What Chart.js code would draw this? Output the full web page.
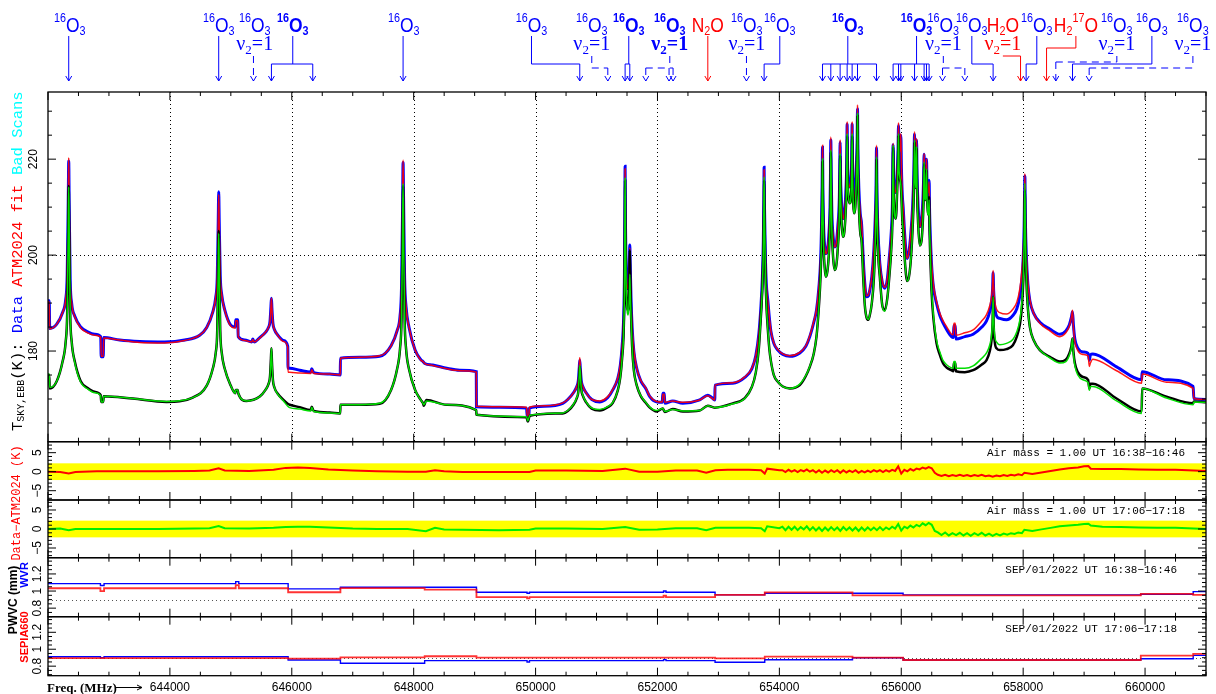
<!DOCTYPE html>
<html>
<head>
<meta charset="utf-8">
<script src="https://cdn.jsdelivr.net/npm/chart.js@4.4.1/dist/chart.umd.min.js"></script>
<style>
  html, body { margin: 0; padding: 0; background: #fff; }
  #wrap { width: 1216px; height: 694px; }
</style>
</head>
<body>
<div id="wrap"><canvas id="myChart" width="1216" height="694"></canvas></div>
<script>
// Sky brightness, scan 16:38-16:46: [MHz, data K, ATM2024 fit K]
var skyScan1 = [
[642000,190.5,190.3],[642020,190.5,190.3],[642028,184.7,184.6],[642143,185.6,185.6],[642241,188.1,188.1],[642290,190.7,190.7],[642315,195.9,196.0],[642332,211.3,211.8],[642340,219.6,220.3],[642348,210.5,211.0],[642364,195.0,195.2],[642389,189.9,189.9],[642438,187.3,187.2],[642537,185.0,184.8],[642651,184.0,183.8],[642766,183.5,183.3],[642865,183.0,182.9],[642873,178.8,178.9],[642906,178.8,178.9],[642914,182.8,182.7],[643177,182.3,182.3],[643505,182.0,181.8],[643915,181.9,181.7],[644243,182.3,182.2],[644489,183.3,183.3],[644604,184.9,184.9],[644703,188.1,188.1],[644752,191.2,191.2],[644777,195.3,195.3],[644793,206.8,206.5],[644801,213.2,212.6],[644809,207.3,207.0],[644826,195.8,195.8],[644851,191.7,191.7],[644900,188.6,188.5],[644998,185.4,185.2],[645072,185.0,184.8],[645080,186.5,186.3],[645113,186.5,186.3],[645121,183.0,183.0],[645228,182.3,182.2],[645343,181.9,181.9],[645359,182.5,182.4],[645384,181.9,181.9],[645474,182.8,182.7],[645568,183.9,183.9],[645617,184.9,184.9],[645642,186.1,186.1],[645658,189.3,189.3],[645666,191.0,191.0],[645674,188.9,188.9],[645691,185.7,185.7],[645715,184.5,184.5],[645764,183.4,183.4],[645863,182.2,182.0],[645934,181.0,180.8],[645938,176.4,175.6],[645966,176.4,175.6],[646130,176.0,175.4],[646311,175.6,175.3],[646327,176.3,176.1],[646360,175.5,175.3],[646623,175.2,175.2],[646795,175.0,175.0],[646798,178.5,178.5],[647115,178.7,178.7],[647443,178.9,179.0],[647629,181.1,181.1],[647727,184.2,184.2],[647776,187.3,187.3],[647801,193.6,193.7],[647818,210.1,210.5],[647826,219.3,219.8],[647834,212.0,212.4],[647851,195.3,195.4],[647875,189.2,189.2],[647924,184.9,184.9],[648023,180.2,180.2],[648116,178.2,178.1],[648154,177.8,177.8],[648182,177.4,177.4],[648313,177.1,177.0],[648543,176.4,176.3],[648756,176.0,175.9],[649027,175.7,175.6],[649030,168.4,168.5],[649413,168.3,168.4],[649851,168.1,168.3],[649864,166.3,166.5],[649889,166.3,166.5],[649897,168.1,168.3],[650151,168.5,168.6],[650446,169.1,169.2],[650528,169.9,169.9],[650627,171.4,171.4],[650676,172.6,172.6],[650701,173.8,173.9],[650717,176.6,177.0],[650725,178.1,178.6],[650733,176.6,177.0],[650750,173.8,173.9],[650775,172.6,172.6],[650824,171.4,171.4],[650922,169.9,169.9],[651054,169.4,169.6],[651185,170.3,170.5],[651267,171.9,172.0],[651349,174.3,174.4],[651390,177.0,177.1],[651420,181.0,181.1],[651445,187.0,187.0],[651458,196.0,196.0],[651464,208.0,207.5],[651469,218.5,218.0],[651474,208.0,207.5],[651486,198.0,198.0],[651502,193.5,193.5],[651518,193.0,193.0],[651535,196.0,196.0],[651541,200.0,199.5],[651546,202.1,201.5],[651553,198.0,197.5],[651566,191.0,191.0],[651584,185.0,185.2],[651612,180.0,180.3],[651661,176.3,176.4],[651726,173.8,173.9],[651808,172.2,172.3],[651874,170.5,170.6],[651984,169.4,169.5],[652079,169.3,169.4],[652087,171.2,171.0],[652112,171.2,171.0],[652120,169.1,169.3],[652251,169.6,169.6],[652415,169.1,169.3],[652694,169.8,169.8],[652826,170.8,170.7],[652891,170.3,170.2],[652940,169.8,169.8],[652945,172.9,172.9],[653236,173.3,173.4],[653433,174.5,174.6],[653548,176.3,176.4],[653613,179.0,179.0],[653663,183.5,183.5],[653696,189.0,189.0],[653720,195.0,195.0],[653737,203.0,203.0],[653745,211.0,210.5],[653750,218.3,217.8],[653756,210.0,209.5],[653770,200.0,200.0],[653786,194.0,194.0],[653811,190.5,190.2],[653835,187.0,187.0],[653860,184.2,184.3],[653909,181.6,181.7],[653975,180.2,180.3],[654057,179.3,179.4],[654172,178.9,179.0],
[654335,179.6,179.7],[654434,181.0,181.1],[654499,183.0,183.2],[654565,186.0,186.2],[654609,188.5,188.7],[654647,193.0,193.2],[654677,199.0,199.2],[654693,207.0,207.2],[654701,214.0,214.3],[654708,222.5,222.9],[654714,214.0,214.3],[654726,206.0,206.0],[654746,201.5,201.5],[654762,200.3,200.3],[654787,201.0,201.0],[654811,204.0,204.0],[654831,210.0,210.2],[654838,216.0,216.3],[654844,224.0,224.6],[654851,216.0,216.3],[654861,209.0,209.0],[654885,203.5,203.5],[654910,201.7,201.7],[654934,202.5,202.5],[654959,206.0,206.0],[654984,212.0,212.2],[654990,217.0,217.3],[654997,223.5,224.0],[655003,217.0,217.3],[655016,212.0,212.0],[655033,208.5,208.5],[655046,207.6,207.6],[655066,208.5,208.5],[655090,213.0,213.0],[655105,219.0,219.3],[655112,227.3,227.8],[655118,220.0,220.3],[655135,215.0,215.0],[655156,214.2,214.2],[655176,216.0,216.0],[655187,220.0,220.3],[655194,227.3,227.8],[655200,220.0,220.3],[655213,213.5,213.5],[655226,211.5,211.5],[655246,213.0,213.0],[655267,220.0,220.3],[655276,224.0,224.5],[655282,230.5,231.3],[655289,222.0,222.3],[655304,214.0,214.0],[655328,208.5,208.5],[655348,206.6,206.6],[655377,199.0,199.0],[655402,194.0,194.1],[655430,191.3,191.5],[655460,191.5,191.7],[655484,192.7,192.9],[655517,195.5,195.6],[655550,201.0,201.0],[655574,208.0,208.2],[655586,214.0,214.3],[655594,222.3,222.9],[655602,213.0,213.3],[655615,206.0,206.0],[655648,198.3,198.3],[655689,194.3,194.5],[655730,193.1,193.3],[655771,195.0,195.0],[655804,199.5,199.5],[655837,205.0,205.0],[655857,212.0,212.2],[655866,223.0,223.3],[655875,216.0,216.2],[655891,213.0,213.0],[655911,213.5,213.5],[655932,217.0,217.2],[655947,222.0,222.3],[655955,227.0,227.6],[655963,221.0,221.3],[655976,222.0,222.0],[655993,225.0,225.3],[656003,218.0,218.2],[656017,212.5,212.5],[656031,210.0,210.0],[656058,204.0,204.0],[656096,199.3,199.3],[656124,200.5,200.5],[656157,204.5,204.5],[656186,210.0,210.2],[656206,217.0,217.3],[656218,225.2,225.7],[656226,219.0,219.2],[656236,216.0,216.0],[656244,219.0,219.2],[656251,224.0,224.3],[656259,217.0,217.2],[656277,210.0,210.0],[656305,205.9,205.9],[656333,207.5,207.5],[656357,212.0,212.0],[656367,216.0,216.2],[656375,221.0,221.2],[656384,215.0,215.2],[656397,214.0,214.0],[656406,216.0,216.1],[656414,220.0,220.1],[656423,215.0,215.0],[656436,213.0,213.0],[656449,213.5,213.4],[656457,215.6,215.3],[656465,209.0,209.2],[656480,203.0,203.3],[656496,198.3,198.6],[656526,193.5,194.0],[656579,189.9,190.3],[656633,187.4,187.9],[656687,185.8,186.3],[656748,184.4,185.0],[656825,183.0,183.5],[656854,182.8,183.4],[656863,185.3,185.8],[656887,185.3,185.8],[656895,182.5,183.3],[657043,183.0,183.8],[657179,183.5,184.4],
[657322,185.0,186.3],[657399,186.3,187.6],[657453,188.3,189.5],[657483,190.5,191.5],[657499,193.0,194.0],[657507,196.3,196.8],[657516,192.5,193.5],[657535,189.0,190.3],[657568,187.2,188.6],[657617,186.8,188.0],[657727,186.5,187.7],[657831,187.4,188.7],[657896,188.8,190.2],[657946,191.5,193.0],[657978,195.0,196.5],[658003,200.0,201.0],[658016,206.0,207.0],[658028,216.5,217.0],[658037,207.0,207.5],[658052,200.0,200.5],[658077,194.0,194.5],[658110,190.5,190.7],[658175,187.8,187.8],[658274,186.0,185.8],[658438,184.6,184.2],[658602,183.5,183.0],[658700,184.2,183.8],[658758,185.5,185.2],[658791,187.0,187.0],[658810,188.2,188.5],[658824,185.5,185.0],[658848,182.5,182.0],[658897,180.6,180.1],[658979,179.8,179.3],[659066,179.5,179.0],[659086,178.1,176.8],[659103,179.2,177.5],[659143,179.4,178.3],[659533,176.7,175.9],[659943,174.0,173.3],[659953,175.7,175.2],[660353,174.0,173.5],[660789,172.6,172.2],[660801,170.1,170.1],[661000,169.9,169.9]
];

// Sky brightness, scan 17:06-17:18: [MHz, data K, ATM2024 fit K]
var skyScan2 = [
[642000,175.0,175.2],[642020,175.0,175.2],[642028,172.2,172.4],[642143,173.7,173.7],[642241,177.9,177.9],[642290,181.9,181.9],[642315,188.0,188.0],[642332,205.0,204.8],[642340,214.4,214.2],[642348,205.0,204.8],[642364,188.0,188.0],[642389,181.9,181.9],[642438,177.9,177.7],[642537,173.7,173.5],[642651,172.3,172.1],[642766,171.5,171.3],[642865,170.8,170.7],[642873,169.4,169.4],[642906,169.4,169.4],[642914,170.6,170.6],[643390,170.1,170.1],[643943,169.4,169.5],[644375,170.3,170.3],[644604,172.8,172.8],[644703,176.3,176.3],[644752,179.6,179.6],[644777,184.4,184.4],[644793,197.7,197.3],[644801,205.0,204.5],[644809,197.7,197.3],[644826,184.4,184.4],[644851,179.6,179.6],[644900,176.3,176.3],[644998,172.8,172.8],[645072,171.2,171.2],[645080,171.9,171.9],[645113,171.9,171.9],[645121,171.2,171.2],[645256,169.6,169.6],[645474,170.5,170.5],[645568,171.9,171.9],[645617,173.1,173.1],[645642,174.6,174.6],[645658,178.5,178.5],[645666,180.6,180.6],[645674,177.8,177.8],[645691,173.9,173.9],[645715,172.4,172.4],[645764,171.2,171.1],[645863,169.8,169.6],[645934,169.0,168.5],[645966,168.8,168.2],[646130,168.3,167.9],[646311,167.7,167.5],[646327,168.4,168.3],[646360,167.5,167.4],[646623,167.2,167.1],[646795,167.0,167.0],[646798,168.8,168.8],[647115,168.8,168.8],[647443,169.0,169.1],[647629,171.9,171.9],[647727,176.2,176.2],[647776,180.5,180.5],[647801,186.9,186.9],[647818,204.6,205.0],[647826,214.4,214.9],[647834,204.6,205.0],[647851,186.9,186.9],[647875,180.5,180.5],[647924,176.2,176.2],[648023,171.9,171.9],[648116,169.8,169.8],[648154,169.1,169.1],[648165,168.6,168.8],[648209,169.8,169.6],[648538,168.8,168.8],[649027,167.7,167.7],[649030,166.7,166.7],[649851,166.2,166.3],[649872,165.3,165.4],[649905,166.5,166.6],[650446,167.0,167.1],[650528,167.5,167.6],[650627,168.9,169.0],[650676,170.2,170.3],[650701,171.5,171.6],[650717,174.9,175.1],[650725,176.7,177.0],[650733,175.4,175.6],[650750,172.0,172.1],[650775,170.7,170.8],[650824,169.4,169.5],[650922,168.0,168.1],[651054,167.6,167.8],[651185,168.3,168.4],[651267,169.2,169.3],[651349,171.8,171.8],[651390,174.5,174.5],[651420,178.5,178.5],[651445,184.0,184.0],[651458,193.0,193.0],[651464,205.0,205.5],[651469,215.5,216.0],[651474,205.0,205.5],[651486,194.0,194.0],[651502,189.0,188.5],[651518,188.5,187.5],[651535,192.0,190.0],[651541,197.0,193.0],[651546,201.0,196.0],[651553,196.0,192.5],[651566,188.0,187.0],[651584,181.0,181.0],[651612,176.0,176.0],[651661,172.8,172.8],[651726,170.6,170.7],[651808,169.2,169.3],[651874,168.2,168.3],[651984,167.4,167.6],[652087,168.0,168.0],[652120,167.3,167.4],[652251,167.9,167.8],[652415,167.4,167.5],[652694,167.6,167.6],[652826,168.6,168.6],[652940,168.2,168.2],[653236,169.1,169.0],[653433,170.2,170.1],[653548,172.5,172.5],[653613,175.5,175.5],[653663,180.5,180.5],[653696,187.0,187.0],[653720,193.0,193.0],[653737,201.0,201.0],[653745,209.0,209.5],[653750,215.5,216.3],[653756,208.0,208.5],[653770,197.0,197.0],[653786,190.0,190.0],[653811,184.5,184.5],[653835,180.5,180.5],[653860,178.0,178.0],[653909,175.0,175.0],[653975,173.6,173.6],[654057,172.6,172.6],[654172,172.2,172.2],
[654335,172.9,173.1],[654434,174.8,174.9],[654499,176.7,176.8],[654565,179.5,179.5],[654609,183.0,183.0],[654647,189.0,189.0],[654677,196.0,196.0],[654693,204.0,204.2],[654701,211.0,211.3],[654708,219.5,220.1],[654714,211.0,211.3],[654726,202.0,202.0],[654746,197.0,197.0],[654762,195.5,195.5],[654787,196.5,196.5],[654811,200.0,200.0],[654831,207.0,207.2],[654838,213.0,213.3],[654844,221.5,221.9],[654851,213.0,213.3],[654861,205.5,205.5],[654885,199.0,199.0],[654910,196.9,196.9],[654934,197.8,197.8],[654959,201.5,201.5],[654984,208.5,208.7],[654990,214.0,214.3],[654997,220.7,221.2],[655003,214.0,214.3],[655016,208.0,208.0],[655033,204.8,204.8],[655046,203.8,203.8],[655066,204.8,204.8],[655090,209.5,209.5],[655105,216.0,216.3],[655112,224.8,225.3],[655118,217.0,217.3],[655135,212.0,212.0],[655156,210.8,210.8],[655176,212.5,212.5],[655187,217.0,217.3],[655194,224.8,225.3],[655200,217.0,217.3],[655213,210.5,210.5],[655226,208.7,208.7],[655246,210.0,210.0],[655267,217.0,217.3],[655276,221.0,221.4],[655282,229.0,229.5],[655289,219.0,219.3],[655304,210.5,210.5],[655328,204.5,204.5],[655348,203.1,203.1],[655377,195.0,195.0],[655402,189.5,189.6],[655430,187.0,187.1],[655460,186.5,186.6],[655484,187.5,187.6],[655517,190.0,190.1],[655550,195.0,195.0],[655574,203.0,203.2],[655586,210.0,210.3],[655594,220.0,220.5],[655602,210.0,210.3],[655615,202.0,202.0],[655648,195.5,195.5],[655689,189.5,189.4],[655730,188.5,188.3],[655771,191.0,190.9],[655804,195.5,195.5],[655837,201.5,201.5],[655857,209.0,209.2],[655866,222.5,222.9],[655875,214.0,214.2],[655891,208.5,208.5],[655911,207.6,207.6],[655932,213.0,213.2],[655947,219.0,219.3],[655955,225.0,225.3],[655963,218.0,218.3],[655976,216.0,216.3],[655993,214.6,214.6],[656003,212.0,212.2],[656017,207.5,207.5],[656031,205.2,205.2],[656058,199.0,199.0],[656096,194.6,194.6],[656124,195.3,195.3],[656157,199.0,199.0],[656186,205.5,205.7],[656206,213.0,213.3],[656218,223.5,224.0],[656226,217.0,217.2],[656236,214.0,214.0],[656244,217.0,217.2],[656251,222.3,222.6],[656259,214.0,214.2],[656277,206.5,206.5],[656305,202.0,202.0],[656333,203.0,203.0],[656357,208.0,208.0],[656367,212.0,212.2],[656375,219.0,219.4],[656384,213.0,213.2],[656397,211.5,211.5],[656406,213.0,213.1],[656414,217.8,218.0],[656423,212.0,212.0],[656436,208.5,208.5],[656449,208.5,208.4],[656457,212.1,211.5],[656465,205.0,205.3],[656480,198.0,198.4],[656496,192.7,193.2],[656526,187.0,187.6],[656579,181.6,182.2],[656633,179.2,179.8],[656687,177.4,178.0],[656748,176.5,177.1],[656825,176.0,176.5],[656854,175.8,176.4],[656863,177.5,177.8],[656887,177.5,177.8],[656895,175.8,176.4],[657043,175.6,176.4],[657179,176.0,176.9],
[657322,177.2,178.5],[657399,178.1,179.6],[657453,180.0,181.3],[657483,182.5,183.5],[657499,186.0,187.0],[657507,191.3,191.3],[657516,185.5,186.5],[657535,181.8,183.0],[657568,180.5,181.8],[657617,180.2,181.3],[657727,180.4,181.6],[657831,181.2,182.4],[657896,183.0,184.0],[657946,185.5,186.5],[657978,189.0,190.0],[658003,195.0,196.0],[658016,202.0,203.0],[658028,213.5,215.0],[658037,203.0,204.0],[658052,195.0,195.5],[658077,189.0,189.0],[658110,185.0,185.0],[658175,182.2,182.2],[658274,180.2,180.2],[658438,178.8,178.6],[658602,177.8,177.5],[658700,178.2,177.8],[658758,179.5,179.1],[658791,181.0,180.7],[658810,182.6,182.6],[658824,180.0,179.6],[658848,177.5,177.0],[658897,175.6,175.0],[658979,174.6,174.0],[659066,174.0,173.4],[659086,172.2,171.8],[659103,173.2,172.6],[659143,173.2,172.6],[659533,170.1,169.6],[659943,167.4,167.0],[659953,172.2,172.2],[660353,170.5,170.2],[660789,169.1,168.8],[660801,169.5,169.4],[661000,169.3,169.3]
];

// Data - ATM2024 residuals: [MHz, 16:38 scan K, 17:06 scan K]
var residRows = [
[642000,0.0,0.0],[642200,-0.1,0.1],[642340,-0.5,-0.3],[642450,-0.1,0.0],[642800,0.1,0.0],[643200,0.1,0.0],[643800,0.1,0.0],[644400,0.2,0.1],[644650,0.3,0.2],[644800,0.9,0.8],[644900,0.3,0.2],[645300,0.2,0.1],[645700,0.5,0.3],[645900,1.0,0.5],[646100,1.1,0.6],[646300,1.0,0.6],[646600,0.6,0.4],[647000,0.3,0.1],[647400,0.1,0.0],[647900,0.0,0.0],[648200,0.0,-0.6],[648350,0.4,0.3],[648500,0.1,-0.1],[648800,-0.1,-0.2],[649400,-0.1,-0.3],[649900,-0.1,-0.2],[650000,0.3,0.1],[650500,0.3,0.1],[651100,0.2,0.0],[651470,0.8,0.5],[651700,0.0,-0.2],[652000,0.0,-0.1],[652300,0.3,0.2],[652650,0.3,0.2],[652800,-0.3,-0.3],[652950,0.4,0.3],[653150,0.5,0.3],[653500,0.5,0.3],[653700,0.4,0.2],[653760,-0.5,-0.6],[653800,0.8,0.7],[654000,0.4,0.2],
[654050,0.4,0.6],[654100,-0.1,-0.3],[654150,0.5,0.6],[654200,0.0,-0.2],[654250,0.4,0.6],[654300,-0.1,-0.3],[654350,0.4,0.5],[654400,0.1,-0.1],[654450,0.6,0.7],[654500,0.0,-0.3],[654550,0.4,0.5],[654600,-0.2,-0.4],[654650,0.4,0.4],[654700,-0.3,-0.5],[654750,0.3,0.4],[654800,-0.2,-0.4],[654850,0.4,0.5],[654900,-0.1,-0.3],[654950,0.4,0.4],[655000,-0.3,-0.5],[655050,0.4,0.5],[655100,-0.2,-0.3],[655150,0.3,0.4],[655200,-0.1,-0.4],[655250,0.4,0.4],[655300,-0.3,-0.5],[655350,0.2,0.4],[655400,-0.2,-0.4],[655450,0.3,0.4],[655500,-0.1,-0.3],[655550,0.4,0.4],[655600,0.0,-0.3],[655650,0.4,0.5],[655700,-0.1,-0.3],[655750,0.4,0.4],[655800,0.0,-0.1],[655850,0.5,0.6],[655900,0.2,0.1],[655950,1.4,1.3],[656000,-0.5,-0.4],[656050,0.5,0.6],[656100,0.1,0.2],[656150,0.7,0.9],[656200,0.3,0.4],[656250,0.8,1.1],[656300,0.6,0.7],[656350,1.1,1.5],[656400,0.8,1.0],[656450,1.2,1.6],[656500,0.9,1.1],[656550,-0.3,-0.5],
[656600,-0.8,-0.9],[656660,-1.1,-1.6],[656720,-0.8,-0.9],[656780,-1.2,-1.7],[656840,-0.9,-1.1],[656900,-1.1,-1.6],[656960,-0.8,-1.0],[657020,-1.1,-1.7],[657080,-0.9,-1.1],[657140,-1.2,-1.8],[657200,-0.9,-1.1],[657260,-1.1,-1.6],[657320,-0.8,-1.0],[657380,-1.2,-1.7],[657440,-1.0,-1.2],[657500,-1.3,-1.8],[657560,-1.0,-1.3],[657620,-1.2,-1.7],[657680,-0.9,-1.2],[657740,-1.1,-1.5],[657800,-0.8,-1.1],[657860,-1.0,-1.3],[657920,-0.7,-0.9],[657980,-0.9,-1.1],[658020,-0.3,-0.2],
[658150,-0.6,-0.5],[658300,-0.2,-0.1],[658450,0.2,0.3],[658600,0.6,0.7],[658750,0.9,0.9],[658900,1.1,1.1],[659000,1.4,1.3],[659070,1.5,1.4],[659110,0.8,0.9],[659300,0.7,0.6],[659600,0.7,0.5],[659900,0.6,0.4],[660200,0.5,0.3],[660500,0.5,0.3],[660800,0.3,0.1],[661000,0.2,0.0]
];
var residBand = 2.2;

// precipitable water vapour, WVR and SEPIA660 (mm)
var freqWvr1 = [642000,642860,642920,645080,645130,645940,646798,649030,649860,649900,652100,652140,652945,653760,656030,659930,660790,661000];
var pwvWvr1 = [1.087,1.065,1.087,1.11,1.087,1.025,1.045,0.986,0.975,0.986,1.0,0.986,0.955,0.975,0.955,0.963,0.993,0.993];
var freqSepia1 = [642000,642860,642920,645080,645130,645940,646798,648180,649030,649860,649900,652100,652140,652945,653760,655200,659930,660790,661000];
var pwvSepia1 = [1.033,1.0,1.033,1.07,1.033,0.986,1.035,1.017,0.928,0.915,0.928,0.945,0.928,0.955,0.985,0.95,0.966,0.955,0.955];
var freqWvr2 = [642000,642860,642920,645940,646798,648180,649860,649900,652100,652140,652945,653760,655200,656030,659930,660790,661000];
var pwvWvr2 = [0.912,0.9,0.912,0.873,0.834,0.865,0.85,0.865,0.877,0.865,0.846,0.875,0.9,0.873,0.888,0.928,0.928];
var freqSepia2 = [642000,645940,646798,648180,649030,652945,653760,655200,656030,659930,660790,661000];
var pwvSepia2 = [0.896,0.888,0.905,0.917,0.9,0.893,0.912,0.9,0.873,0.924,0.944,0.944];
var pwvRef = 0.9;

var freqTicks = [644000,646000,648000,650000,652000,654000,656000,658000,660000];

// line identifications along the top: label centre and arrow positions (MHz)
var lineTags = [
  {at: 642356, mol: 'O3', arrows: [642340]},
  {at: 644801, mol: 'O3', arrows: [644801]},
  {at: 645392, mol: 'O3', vib: true, arrows: [645371]},
  {at: 646016, mol: 'O3', bold: true, arrows: [645666, 646344], bus: 64},
  {at: 647837, mol: 'O3', arrows: [647826]},
  {at: 649933, mol: 'O3', arrows: [650725], bus: 64},
  {at: 650922, mol: 'O3', vib: true, arrows: [651185], bus: 68},
  {at: 651529, mol: 'O3', bold: true, arrows: [651469, 651546], bus: 64},
  {at: 652202, mol: 'O3', bold: true, vib: true, arrows: [651808, 652190, 652256], bus: 68},
  {at: 652826, mol: 'N2O', red: true, arrows: [652826]},
  {at: 653466, mol: 'O3', vib: true, arrows: [653460]},
  {at: 654007, mol: 'O3', arrows: [653750], bus: 64},
  {at: 655123, mol: 'O3', bold: true, arrows: [654708, 654844, 654997, 655112, 655194, 655282, 655594], bus: 64},
  {at: 656251, mol: 'O3', bold: true, arrows: [655866, 655955, 655993, 656218, 656375, 656414, 656457], bus: 64},
  {at: 656690, mol: 'O3', vib: true, arrows: [656677, 657043], bus: 68},
  {at: 657158, mol: 'O3', arrows: [657507], bus: 64},
  {at: 657667, mol: 'H2O', red: true, vib: true, solid: true, arrows: [657957], bus: 56},
  {at: 658224, mol: 'O3', arrows: [658049], bus: 64},
  {at: 658865, mol: 'H217O', red: true, arrows: [658384], bus: 48},
  {at: 659537, mol: 'O3', vib: true, arrows: [658536], bus: 62},
  {at: 660112, mol: 'O3', arrows: [658810], bus: 64},
  {at: 660785, mol: 'O3', vib: true, arrows: [659083], bus: 68}
];

function col(rows, k) { return rows.map(function (r) { return {x: r[0], y: r[k]}; }); }
function pts(xs, ys) { return xs.map(function (x, i) { return {x: x, y: ys[i]}; }); }

var BLUE = '#0000ff', RED = '#ff0000', GREEN = '#00dd00';
var SANS = '"Liberation Sans", Arial, sans-serif';
var SERIF = '"Liberation Serif", "Times New Roman", serif';
var MONO = '"Liberation Mono", "Courier New", monospace';

function line(ctx, x1, y1, x2, y2) { ctx.beginPath(); ctx.moveTo(x1, y1); ctx.lineTo(x2, y2); ctx.stroke(); }

function vtext(ctx, str, cx, cy, font, color) {
  ctx.save();
  ctx.translate(cx, cy);
  ctx.rotate(-Math.PI / 2);
  ctx.font = font;
  ctx.fillStyle = color;
  ctx.textAlign = 'center';
  ctx.textBaseline = 'middle';
  ctx.fillText(str, 0, 0);
  ctx.restore();
}

var molParts = {
  O3: [['16', 'sup'], ['O', 'main'], ['3', 'sub']],
  N2O: [['N', 'main'], ['2', 'sub'], ['O', 'main']],
  H2O: [['H', 'main'], ['2', 'sub'], ['O', 'main']],
  H217O: [['H', 'main'], ['2', 'sub'], ['17', 'sup'], ['O', 'main']]
};
var partSpec = {main: [21, 31.7], sup: [13, 22], sub: [13, 35]};

function drawFormula(ctx, parts, cx, bold, color) {
  var w = bold ? 'bold ' : '';
  var total = 0;
  var widths = parts.map(function (p) {
    ctx.font = w + partSpec[p[1]][0] + 'px ' + SANS;
    var m = ctx.measureText(p[0]).width;
    total += m;
    return m;
  });
  ctx.save();
  ctx.translate(cx, 0);
  ctx.scale(0.83, 1);
  ctx.fillStyle = color;
  ctx.textAlign = 'left';
  ctx.textBaseline = 'alphabetic';
  var cur = -total / 2;
  parts.forEach(function (p, i) {
    ctx.font = w + partSpec[p[1]][0] + 'px ' + SANS;
    ctx.fillText(p[0], cur, partSpec[p[1]][1]);
    cur += widths[i];
  });
  ctx.restore();
}

function drawVib(ctx, cx, bold, color) {
  var w = bold ? 'bold ' : '';
  var seq = [['\u03bd', 20, 50], ['2', 13, 54], ['=1', 20, 50]];
  var total = 0;
  var widths = seq.map(function (s) { ctx.font = w + s[1] + 'px ' + SERIF; var m = ctx.measureText(s[0]).width; total += m; return m; });
  ctx.save();
  ctx.fillStyle = color;
  ctx.textAlign = 'left';
  ctx.textBaseline = 'alphabetic';
  var cur = cx - total / 2;
  seq.forEach(function (s, i) { ctx.font = w + s[1] + 'px ' + SERIF; ctx.fillText(s[0], cur, s[2]); cur += widths[i]; });
  ctx.restore();
}

function arrowHead(ctx, x, y) {
  ctx.save();
  ctx.setLineDash([]);
  ctx.beginPath();
  ctx.moveTo(x - 3, y - 5);
  ctx.lineTo(x, y);
  ctx.lineTo(x + 3, y - 5);
  ctx.stroke();
  ctx.restore();
}

var panelIds = ['yT', 'yR1', 'yR2', 'yP1', 'yP2'];
var yTickSpec = {
  yT: {minor: 5, major: 20, labels: [180, 200, 220], lx: 34},
  yR1: {minor: 1, major: 5, labels: [-5, 0, 5], lx: 38},
  yR2: {minor: 1, major: 5, labels: [-5, 0, 5], lx: 38},
  yP1: {minor: 0.05, major: 0.2, labels: [0.8, 1, 1.2], lx: 38},
  yP2: {minor: 0.05, major: 0.2, labels: [0.8, 1, 1.2], lx: 38}
};

var panelFrame = {
  id: 'panelFrame',
  beforeDatasetsDraw: function (chart) {
    var ctx = chart.ctx, sc = chart.scales, x = sc.x, yT = sc.yT;
    ctx.save();
    ['yR1', 'yR2'].forEach(function (id) {
      var s = sc[id];
      var y1 = s.getPixelForValue(residBand), y2 = s.getPixelForValue(-residBand);
      ctx.fillStyle = '#ffff00';
      ctx.fillRect(x.left, y1, x.right - x.left, y2 - y1);
    });
    ctx.strokeStyle = '#000';
    ctx.lineWidth = 1;
    ctx.setLineDash([1, 3]);
    freqTicks.forEach(function (f) {
      var px = Math.round(x.getPixelForValue(f)) + 0.5;
      line(ctx, px, yT.top, px, yT.bottom);
    });
    var py = Math.round(yT.getPixelForValue(200)) + 0.5;
    line(ctx, x.left, py, x.right, py);
    ctx.strokeStyle = '#555';
    ['yP1', 'yP2'].forEach(function (id) {
      var yy = Math.round(sc[id].getPixelForValue(pwvRef)) + 0.5;
      line(ctx, x.left, yy, x.right, yy);
    });
    ctx.restore();
  },
  afterDatasetsDraw: function (chart) {
    var ctx = chart.ctx, sc = chart.scales, x = sc.x;
    ctx.save();
    ctx.strokeStyle = '#000';
    panelIds.forEach(function (id) {
      var s = sc[id];
      ctx.lineWidth = 1.3;
      ctx.strokeRect(x.left, s.top, x.right - x.left, s.bottom - s.top);
      ctx.lineWidth = 1;
      for (var f = 642000; f <= 661000; f += 500) {
        var px = x.getPixelForValue(f);
        var len = f % 2000 === 0 ? 8 : 4;
        line(ctx, px, s.top, px, s.top + len);
        line(ctx, px, s.bottom, px, s.bottom - len);
      }
      var spec = yTickSpec[id];
      var k0 = Math.ceil(s.min / spec.minor - 1e-6), k1 = Math.floor(s.max / spec.minor + 1e-6);
      for (var k = k0; k <= k1; k++) {
        var v = k * spec.minor;
        var r = v / spec.major;
        var big = Math.abs(r - Math.round(r)) < 1e-6;
        var py = s.getPixelForValue(v);
        var ln = big ? 8 : 4;
        line(ctx, x.left, py, x.left + ln, py);
        line(ctx, x.right, py, x.right - ln, py);
      }
      spec.labels.forEach(function (v) {
        var txt = v < 0 ? '\u2212' + (-v) : String(v);
        vtext(ctx, txt, spec.lx, s.getPixelForValue(v), '12px ' + SANS, '#000');
      });
    });

    // frequency tick labels
    ctx.fillStyle = '#000';
    ctx.font = '12px ' + SANS;
    ctx.textAlign = 'center';
    ctx.textBaseline = 'middle';
    freqTicks.forEach(function (f) { ctx.fillText(String(f), x.getPixelForValue(f), 687.5); });

    // y-axis titles
    ctx.save();
    ctx.translate(16, 431);
    ctx.rotate(-Math.PI / 2);
    ctx.textAlign = 'left';
    ctx.textBaseline = 'alphabetic';
    var cur = 0;
    [['T', 15.5, 5.5, '#000'], ['SKY,EBB', 10, 8, '#000'], ['(K): ', 15.5, 5.5, '#000'],
     ['Data ', 15.5, 5.5, BLUE], ['ATM2024 fit ', 15.5, 5.5, RED], ['Bad Scans', 15.5, 5.5, '#00ffff']].forEach(function (p) {
      ctx.font = p[1] + 'px ' + MONO;
      ctx.fillStyle = p[3];
      ctx.fillText(p[0], cur, p[2]);
      cur += ctx.measureText(p[0]).width;
    });
    ctx.restore();
    vtext(ctx, 'Data\u2212ATM2024 (K)', 17, 503, '12px ' + MONO, RED);
    vtext(ctx, 'PWVC (mm)', 14, 600, 'bold 12px ' + SANS, '#000');
    vtext(ctx, 'SEPIA660', 25, 637, 'bold 11px ' + SANS, RED);
    vtext(ctx, 'WVR', 25, 575, 'bold 11px ' + SANS, BLUE);

    // scan notes, upper right of each panel
    ctx.font = '11px ' + MONO;
    ctx.fillStyle = '#000';
    ctx.textAlign = 'right';
    ctx.textBaseline = 'middle';
    ctx.fillText('Air mass = 1.00 UT 16:38\u221216:46', 1185, sc.yR1.top + 11);
    ctx.fillText('Air mass = 1.00 UT 17:06\u221217:18', 1185, sc.yR2.top + 11);
    ctx.fillText('SEP/01/2022 UT 16:38\u221216:46', 1177, sc.yP1.top + 12);
    ctx.fillText('SEP/01/2022 UT 17:06\u221217:18', 1177, sc.yP2.top + 12);

    // frequency axis caption
    ctx.textAlign = 'left';
    ctx.textBaseline = 'alphabetic';
    ctx.font = 'bold 13px ' + SERIF;
    ctx.fillText('Freq. (MHz)', 47, 692);
    ctx.lineWidth = 1;
    line(ctx, 115, 687.5, 142, 687.5);
    ctx.beginPath();
    ctx.moveTo(137, 685);
    ctx.lineTo(142, 687.5);
    ctx.lineTo(137, 690);
    ctx.stroke();
    ctx.restore();

    // line identifications
    ctx.save();
    ctx.lineWidth = 1;
    lineTags.forEach(function (t) {
      var color = t.red ? RED : BLUE;
      var lx = x.getPixelForValue(t.at);
      drawFormula(ctx, molParts[t.mol], lx, t.bold, color);
      if (t.vib) drawVib(ctx, lx, t.bold, color);
      ctx.strokeStyle = color;
      ctx.setLineDash(t.vib && !t.solid ? [7, 5] : []);
      var y0 = t.vib ? 56 : 36;
      var ax = t.arrows.map(function (f) { return x.getPixelForValue(f); });
      if (t.bus) {
        var lo = Math.min.apply(null, ax.concat([lx])), hi = Math.max.apply(null, ax.concat([lx]));
        line(ctx, lx, y0, lx, t.bus);
        line(ctx, lo, t.bus, hi, t.bus);
        ax.forEach(function (a) { line(ctx, a, t.bus, a, 81); arrowHead(ctx, a, 81); });
      } else {
        ax.forEach(function (a) { line(ctx, a, y0, a, 81); arrowHead(ctx, a, 81); });
      }
    });
    ctx.restore();
  }
};

function yAxis(weight, order, min, max) {
  return {
    type: 'linear', position: 'left', stack: 'panels', stackWeight: weight, weight: order,
    min: min, max: max,
    ticks: {display: false},
    grid: {display: false, drawTicks: false},
    border: {display: false},
    afterFit: function (s) { s.width = 48; }
  };
}

var smooth = {pointRadius: 0, fill: false, cubicInterpolationMode: 'monotone'};
var flat = {pointRadius: 0, fill: false, tension: 0};

var ctx = document.getElementById('myChart').getContext('2d');
var myChart = new Chart(ctx, {
  type: 'line',
  data: {
    datasets: [
      Object.assign({label: 'ATM2024 fit 17:06', data: col(skyScan2, 2), yAxisID: 'yT', borderColor: GREEN, borderWidth: 1.5, order: 1}, smooth),
      Object.assign({label: 'Data 17:06', data: col(skyScan2, 1), yAxisID: 'yT', borderColor: '#000', borderWidth: 2.5, order: 2}, smooth),
      Object.assign({label: 'ATM2024 fit 16:38', data: col(skyScan1, 2), yAxisID: 'yT', borderColor: 'rgba(255,0,0,0.9)', borderWidth: 1.5, order: 3}, smooth),
      Object.assign({label: 'Data 16:38', data: col(skyScan1, 1), yAxisID: 'yT', borderColor: BLUE, borderWidth: 3, order: 4}, smooth),
      Object.assign({label: 'Residual 16:38', data: col(residRows, 1), yAxisID: 'yR1', borderColor: RED, borderWidth: 2}, flat),
      Object.assign({label: 'Residual 17:06', data: col(residRows, 2), yAxisID: 'yR2', borderColor: '#00ee00', borderWidth: 2}, flat),
      Object.assign({label: 'SEPIA660 16:38', data: pts(freqSepia1, pwvSepia1), yAxisID: 'yP1', borderColor: 'rgba(255,0,0,0.8)', borderWidth: 1.8, stepped: true}, flat),
      Object.assign({label: 'WVR 16:38', data: pts(freqWvr1, pwvWvr1), yAxisID: 'yP1', borderColor: BLUE, borderWidth: 1.4, stepped: true}, flat),
      Object.assign({label: 'SEPIA660 17:06', data: pts(freqSepia2, pwvSepia2), yAxisID: 'yP2', borderColor: 'rgba(255,0,0,0.8)', borderWidth: 1.8, stepped: true}, flat),
      Object.assign({label: 'WVR 17:06', data: pts(freqWvr2, pwvWvr2), yAxisID: 'yP2', borderColor: BLUE, borderWidth: 1.4, stepped: true}, flat)
    ]
  },
  options: {
    responsive: false,
    animation: false,
    devicePixelRatio: 1,
    layout: {padding: {top: 92, right: 10, left: 0, bottom: 0}},
    plugins: {legend: {display: false}, tooltip: {enabled: false}},
    scales: {
      x: {
        type: 'linear', position: 'bottom', min: 642000, max: 661000,
        grid: {display: false, drawTicks: false},
        border: {display: false},
        afterFit: function (s) { s.height = 18.3; },
        ticks: {display: false}
      },
      yT: yAxis(349.7, 5, 161.1, 234),
      yR1: yAxis(58.3, 4, -7.45, 7.89),
      yR2: yAxis(57.7, 3, -7.55, 7.63),
      yP1: yAxis(59, 2, 0.70, 1.39),
      yP2: yAxis(59, 1, 0.6875, 1.384)
    }
  },
  plugins: [panelFrame]
});
</script>
</body>
</html>
